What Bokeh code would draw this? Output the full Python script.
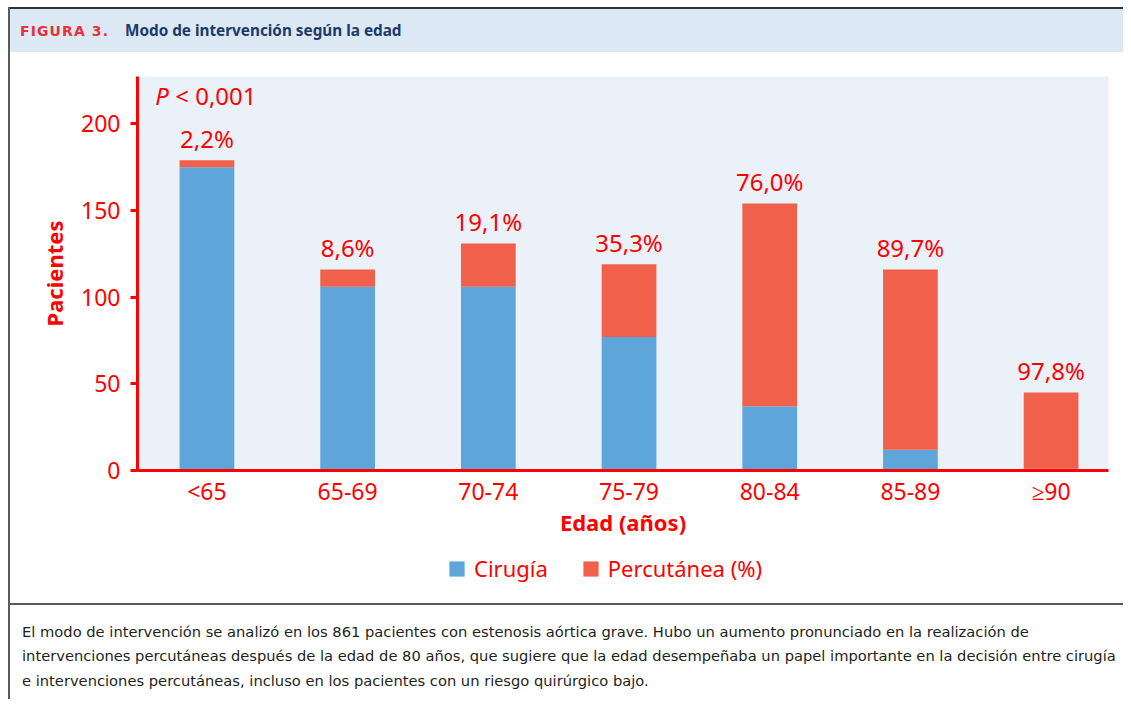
from bokeh.plotting import figure
from bokeh.models import (ColumnDataSource, Range1d, Label, FixedTicker, Legend,
                          LegendItem, Div, Spacer)
from bokeh.layouts import row, column
from bokeh.embed import file_html
from bokeh.resources import INLINE
from bokeh.core.properties import value

# ---------------- data ----------------
grupos = ["<65", "65-69", "70-74", "75-79", "80-84", "85-89", "≥90"]
cirugia = [175, 106, 106, 77, 37, 12, 1]
percutanea = [4, 10, 25, 42, 117, 104, 44]
porcentajes = ["2,2%", "8,6%", "19,1%", "35,3%", "76,0%", "89,7%", "97,8%"]
y_ticks = [0, 50, 100, 150, 200]
series = ["Cirugía", "Percutánea (%)"]

titulo_num = "FIGURA 3."
titulo = "Modo de intervención según la edad"
p_valor = ["P", "< 0,001"]
pie = [
    "El modo de intervención se analizó en los 861 pacientes con estenosis aórtica grave. Hubo un aumento pronunciado en la realización de",
    "intervenciones percutáneas después de la edad de 80 años, que sugiere que la edad desempeñaba un papel importante en la decisión entre cirugía",
    "e intervenciones percutáneas, incluso en los pacientes con un riesgo quirúrgico bajo.",
]

RED = "#ff0000"
BLUE = "#5ea5da"
ORANGE = "#f0604b"
COLORS = [BLUE, ORANGE]
FONT = "Noto Sans"

W = 1113

# ---------------- header (HTML) ----------------
header_html = (
    '<div style="position:relative;width:%dpx;height:45px;box-sizing:border-box;'
    'border-top:2px solid #333333;background:#dce8f3;overflow:hidden;">'
    '<span style="position:absolute;left:10px;top:15px;font-family:\'DejaVu Sans\';'
    'font-weight:bold;font-size:14px;line-height:14px;letter-spacing:1.1px;color:#e5323b;'
    'white-space:nowrap;">%s</span>'
    '<span style="position:absolute;left:115px;top:14px;font-family:\'Noto Sans\';'
    'font-weight:bold;font-size:15.3px;line-height:15px;color:#1b3a6b;white-space:nowrap;">%s</span>'
    '</div>' % (W, titulo_num, titulo)
)
h = Div(text=header_html, width=W, height=45, margin=0)

# ---------------- chart ----------------
src = ColumnDataSource(dict(
    x=list(range(len(grupos))),
    cirugia=cirugia,
    percutanea=percutanea,
    total=[a + b for a, b in zip(cirugia, percutanea)],
    pct=porcentajes,
))

p = figure(width=W, height=493, x_range=Range1d(-0.4936, 6.408), y_range=Range1d(0, 227.3),
           min_border_left=127, min_border_right=15, min_border_top=24, min_border_bottom=75,
           toolbar_location=None, output_backend="svg", margin=0)
p.background_fill_color = "#eaf1f9"
p.border_fill_color = "white"
p.outline_line_color = None
p.grid.visible = False

p.vbar_stack(["cirugia", "percutanea"], x="x", width=0.389, color=COLORS,
             line_color=None, source=src)

p.text(x="x", y="total", text="pct", source=src, text_align="center",
       text_baseline="alphabetic", y_offset=-22, text_font=value(FONT),
       text_font_size="24px", text_color=RED)

p.add_layout(Label(x=-0.3677, y=216.2, text=p_valor[0], text_font=FONT, text_font_style="italic",
                   text_font_size="24px", text_color=RED, text_baseline="alphabetic"))
p.add_layout(Label(x=-0.2255, y=216.2, text=p_valor[1], text_font=FONT,
                   text_font_size="24px", text_color=RED, text_baseline="alphabetic"))

for ax in (p.xaxis[0], p.yaxis[0]):
    ax.axis_line_color = RED
    ax.axis_line_width = 3
    ax.major_tick_line_color = RED
    ax.major_tick_line_width = 3
    ax.minor_tick_line_color = None
    ax.major_label_text_color = RED
    ax.major_label_text_font = FONT
    ax.major_label_text_font_size = "23px"
    ax.axis_label_text_color = RED
    ax.axis_label_text_font = FONT
    ax.axis_label_text_font_style = "bold"
    ax.axis_label_text_font_size = "22px"

p.xaxis.ticker = FixedTicker(ticks=list(range(len(grupos))))
p.xaxis.major_label_overrides = {i: g for i, g in enumerate(grupos)}
p.xaxis.major_tick_out = 0
p.xaxis.major_tick_in = 0
p.xaxis.major_label_standoff = 4
p.xaxis.axis_label = "Edad (años)"
p.xaxis.axis_label_standoff = -3

p.yaxis.ticker = FixedTicker(ticks=y_ticks)
p.yaxis.major_tick_out = 7
p.yaxis.major_tick_in = 0
p.yaxis.major_label_standoff = 10
p.yaxis.axis_label = "Pacientes"
p.yaxis.axis_label_standoff = 9

# ---------------- legend strip ----------------
# same stacked bars, drawn out of view (y range far above the data) only to feed the legend
p2 = figure(width=W, height=58, x_range=Range1d(-0.4936, 6.408), y_range=Range1d(1000, 1001),
            min_border_left=127, min_border_right=15, min_border_top=0, min_border_bottom=0,
            toolbar_location=None, output_backend="svg", margin=0,
            x_axis_type=None, y_axis_type=None)
p2.background_fill_color = "white"
p2.border_fill_color = "white"
p2.outline_line_color = None
p2.grid.visible = False
leg_r = p2.vbar_stack(["cirugia", "percutanea"], x="x", width=0.389, color=COLORS,
                      line_color=None, source=src)

lg = Legend(items=[LegendItem(label=series[i], renderers=[leg_r[i]]) for i in range(2)],
            location=(310, 20), orientation="horizontal")
lg.glyph_width = 19
lg.glyph_height = 19
lg.label_height = 19
lg.label_text_font = FONT
lg.label_text_font_size = "22px"
lg.label_text_color = RED
lg.spacing = 33
lg.label_standoff = 8
lg.padding = 0
lg.margin = 0
lg.border_line_color = None
lg.background_fill_alpha = 0
p2.add_layout(lg)

# ---------------- caption (HTML) ----------------
lines = "".join(
    '<span style="position:absolute;left:12px;top:%.1fpx;white-space:nowrap;">%s</span>' % (t, s)
    for t, s in zip([19.5, 44.0, 68.5], pie)
)
caption_html = (
    '<div style="position:relative;width:%dpx;height:96px;box-sizing:border-box;'
    'border-top:2px solid #5a5a5a;background:white;overflow:hidden;font-family:\'DejaVu Sans\';'
    'font-size:14.7px;line-height:14.7px;color:#231f20;">%s</div>' % (W, lines)
)
c = Div(text=caption_html, width=W, height=96, margin=0)

# ---------------- left border & page offset ----------------
lb = Div(text="", width=2, height=692, margin=0, styles={"background-color": "#5a5a5a"})

inner = row(lb, column(h, p, p2, c, spacing=0), spacing=0)
layout = column(Spacer(width=1123, height=7, margin=0),
                row(Spacer(width=8, height=692, margin=0), inner, spacing=0),
                spacing=0)
open("out.html", "w").write(file_html(layout, INLINE))
